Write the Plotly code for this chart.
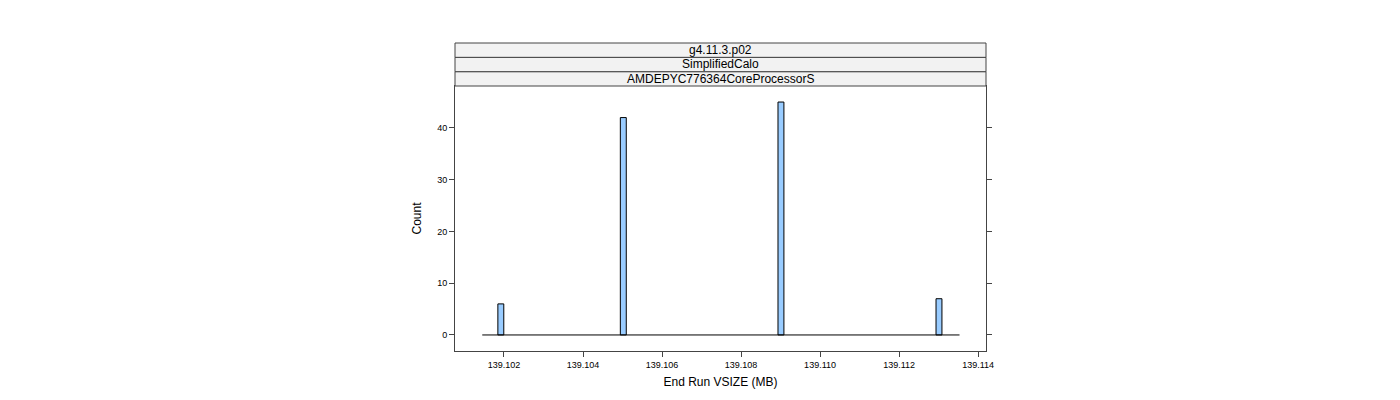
import plotly.graph_objects as go

# histogram bins with non-zero counts (bin centres in MB)
bin_centers = [139.10192, 139.10502, 139.10901, 139.11301]
counts = [6, 42, 45, 7]
bin_width = 0.00015
# full histogram range (zero-count bins show as a flat line)
range_lo, range_hi = 139.10145, 139.11353

strips = ['g4.11.3.p02', 'SimplifiedCalo', 'AMDEPYC776364CoreProcessorS']
x_ticks = [139.102, 139.104, 139.106, 139.108, 139.110, 139.112, 139.114]
y_ticks = [0, 10, 20, 30, 40]

x_range = [139.10076, 139.1142]
top, bottom, panel_top = 35, 343, 78
dom_top = (bottom - panel_top) / (bottom - top)

fig = go.Figure()
fig.add_trace(go.Scatter(x=[range_lo, range_hi], y=[0, 0], mode='lines',
                         line=dict(color='black', width=1), hoverinfo='skip'))
fig.add_trace(go.Bar(x=bin_centers, y=counts, width=bin_width,
                     marker=dict(color='#99ccff', line=dict(color='black', width=1))))

ax = dict(showgrid=False, zeroline=False, showline=True, linecolor='#444', linewidth=1,
          mirror='ticks', ticks='outside', ticklen=5, tickcolor='#444',
          tickfont=dict(size=9, color='black'))
fig.update_layout(
    xaxis=dict(**ax, range=x_range, tickvals=x_ticks, ticktext=['%.3f' % v for v in x_ticks],
               title=dict(text='End Run VSIZE (MB)', font=dict(size=12, color='black'), standoff=8)),
    yaxis=dict(**ax, range=[-3.1, 48.1], tickvals=y_ticks, domain=[0, dom_top],
               title=dict(text='Count', font=dict(size=12, color='black'), standoff=12)),
    xaxis2=dict(overlaying='x', anchor='free', position=1, side='top', range=x_range,
                tickvals=x_ticks, showticklabels=False, ticks='outside', ticklen=5,
                tickcolor='#444', showgrid=False, zeroline=False, showline=False),
)

# strip headers stacked above the panel
strip_h = (1 - dom_top) / len(strips)
for i, label in enumerate(reversed(strips)):
    y0 = dom_top + i * strip_h
    fig.add_shape(type='rect', xref='paper', yref='paper', x0=0, x1=1, y0=y0, y1=y0 + strip_h,
                  fillcolor='#f2f2f2', line=dict(color='#444', width=1))
    fig.add_annotation(xref='paper', yref='paper', x=0.5, y=y0 + strip_h / 2, text=label,
                       yanchor='middle', showarrow=False, font=dict(size=12, color='black'))

fig.update_layout(width=1400, height=400, showlegend=False, plot_bgcolor='white',
                  paper_bgcolor='white', font=dict(family='Liberation Sans'),
                  margin=dict(l=447, r=422, t=top, b=400 - bottom, autoexpand=False))
fig.write_html('out.html')
